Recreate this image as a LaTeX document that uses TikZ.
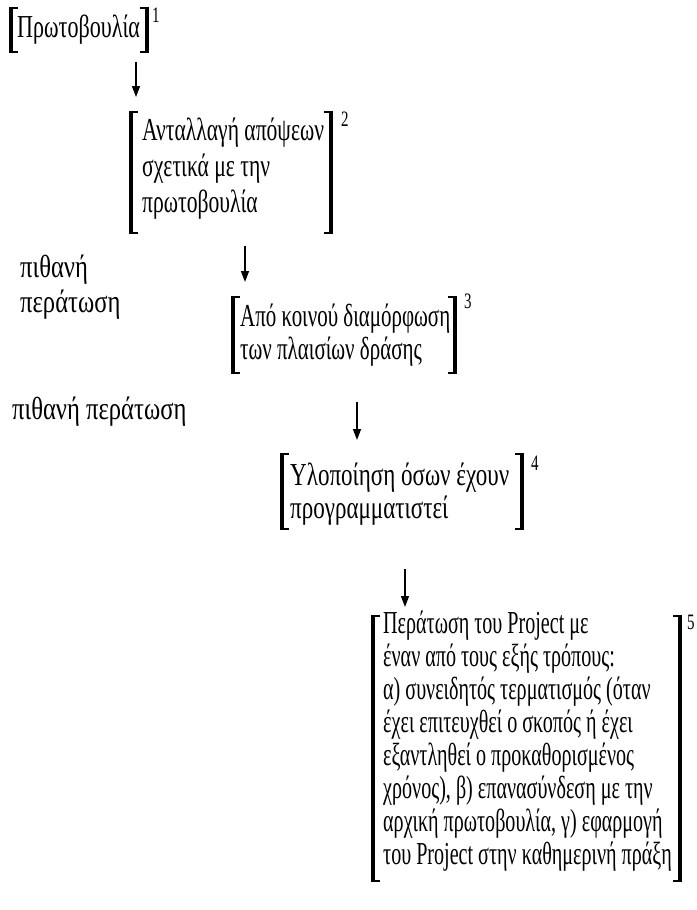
\documentclass[tikz,border=0pt]{standalone}
\usepackage{fontspec}
\setmainfont{Liberation Serif}[FakeStretch=0.68]
% condensed cuts of the same serif, one per text block
\newfontfamily\faceA{Liberation Serif}[FakeStretch=0.69]
\newfontfamily\faceB{Liberation Serif}[FakeStretch=0.675]
\newfontfamily\faceC{Liberation Serif}[FakeStretch=0.655]
\newfontfamily\faceD{Liberation Serif}[FakeStretch=0.72]
\newfontfamily\faceE{Liberation Serif}[FakeStretch=0.628]
\newfontfamily\faceL{Liberation Serif}[FakeStretch=0.77]
\usetikzlibrary{arrows.meta,calc}

\newcommand\bodysize{\fontsize{32}{33}\selectfont}
\newcommand\indexfont{\fontsize{22}{22}\selectfont}

% square brackets drawn round a block: #1 = top-left corner, #2 = bottom-right corner
\newcommand\sqbrackets[2]{%
  \draw[stem] (#1) -- (#1 |- #2);
  \draw[stem] (#2 |- #1) -- (#2);
  \draw[serif] ($(#1)+(-1.6,-0.9)$) -- ++(9,0);
  \draw[serif] ($(#1 |- #2)+(-1.6,0.9)$) -- ++(9,0);
  \draw[serif] ($(#2 |- #1)+(1.6,-0.9)$) -- ++(-9,0);
  \draw[serif] ($(#2)+(1.6,0.9)$) -- ++(-9,0);
}

\begin{document}
\begin{tikzpicture}[x=1pt,y=-1pt,
  stem/.style={line width=3.2pt, line cap=butt},
  serif/.style={line width=1.8pt, line cap=butt},
  txt/.style={font=\bodysize, align=left, inner sep=0pt, anchor=north west},
  lbl/.style={font=\bodysize\faceL, inner sep=0pt, anchor=base west},
  idx/.style={font=\indexfont, inner sep=0pt, anchor=north west},
  arr/.style={line width=1.4pt, -{Triangle[length=11pt,width=8pt]}}]

\useasboundingbox (0,0) rectangle (696,910);

% step 1
\coordinate (k1a) at (11,9);   \coordinate (k1b) at (147,51);
\sqbrackets{k1a}{k1b}
\node[txt, font=\bodysize\faceA] (t1) at (17,15) {Πρωτοβουλία};
\node[idx] (n1) at (152,8) {1};

% step 2
\coordinate (k2a) at (131,113); \coordinate (k2b) at (331,232);
\sqbrackets{k2a}{k2b}
\node[txt, font=\bodysize\faceB] (t2) at (142,118) {Ανταλλαγή απόψεων\\[3pt]σχετικά με την\\[3pt]πρωτοβουλία};
\node[idx] (n2) at (341,112) {2};

% step 3
\coordinate (k3a) at (233,298); \coordinate (k3b) at (455,372);
\sqbrackets{k3a}{k3b}
\node[txt, font=\bodysize\faceC] (t3) at (240,304) {Από κοινού διαμόρφωση\\των πλαισίων δράσης};
\node[idx] (n3) at (464,294) {3};

% step 4
\coordinate (k4a) at (282,455); \coordinate (k4b) at (522,528);
\sqbrackets{k4a}{k4b}
\node[txt, font=\bodysize\faceD] (t4) at (290,463) {Υλοποίηση όσων έχουν\\προγραμματιστεί};
\node[idx] (n4) at (531,456) {4};

% step 5
\coordinate (k5a) at (373,617); \coordinate (k5b) at (680,880);
\sqbrackets{k5a}{k5b}
\node[txt, font=\bodysize\faceE] (t5) at (383,611) {Περάτωση του Project με\\
έναν από τους εξής τρόπους:\\
α) συνειδητός τερματισμός (όταν\\
έχει επιτευχθεί ο σκοπός ή έχει\\
εξαντληθεί ο προκαθορισμένος\\
χρόνος), β) επανασύνδεση με την\\
αρχική πρωτοβουλία, γ) εφαρμογή\\
του Project στην καθημερινή πράξη};
\node[idx] (n5) at (687,615) {5};

% side notes
\node[lbl] (p1) at (20,277) {πιθανή};
\node[lbl] (p2) at (20,312) {περάτωση};
\node[lbl] (p3) at (12,419) {πιθανή περάτωση};

% arrows between the steps
\coordinate (a1s) at (136,62);  \coordinate (a1e) at (136,97);
\coordinate (a2s) at (245,246); \coordinate (a2e) at (245,282);
\coordinate (a3s) at (357,402); \coordinate (a3e) at (357,440);
\coordinate (a4s) at (405,569); \coordinate (a4e) at (405,607);
\draw[arr] (a1s) -- (a1e);
\draw[arr] (a2s) -- (a2e);
\draw[arr] (a3s) -- (a3e);
\draw[arr] (a4s) -- (a4e);
\end{tikzpicture}
\end{document}
